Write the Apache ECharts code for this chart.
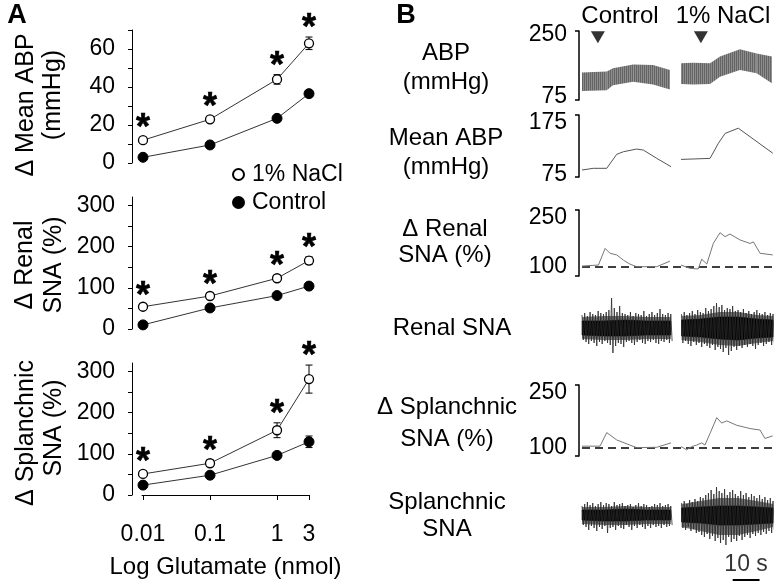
<!DOCTYPE html>
<html><head><meta charset="utf-8">
<script src="https://cdn.jsdelivr.net/npm/echarts@6/dist/echarts.min.js"></script>
<style>html,body{margin:0;padding:0;background:#fff}#c{width:779px;height:585px}</style>
</head><body><div id="c"></div>
<script>
// ---------- Panel A data ----------
const doses = [0.01, 0.1, 1, 3];
const doseLabels = ['0.01', '0.1', '1', '3'];
const abpNaCl = [12, 23, 44, 63];
const abpNaClErr = [1.5, 1.5, 2.5, 3.3];
const abpCtrl = [3, 9.5, 23.5, 36.5];
const abpCtrlErr = [1, 1, 1, 1.5];
const renalNaCl = [54, 80, 123, 166];
const renalNaClErr = [5, 5, 7, 9];
const renalCtrl = [10, 51, 81, 104];
const renalCtrlErr = [3, 4, 5, 6];
const splNaCl = [51, 77, 157, 281];
const splNaClErr = [6, 8, 18, 34];
const splCtrl = [24, 48, 96, 129];
const splCtrlErr = [4, 4, 6, 14];
const abpTicks = [0, 10, 20, 30, 40, 50, 60, 70];
const abpTickLabels = [0, 20, 40, 60];
const snaTicks = [0, 50, 100, 150, 200, 250, 300];
const snaTickLabels = [0, 100, 200, 300];

// ---------- Panel B data (time in s) ----------
const abpScaleLabels = [75, 250];
const meanAbpScaleLabels = [75, 175];
const deltaScaleLabels = [100, 250];
const injectionTimes = [5.9, 44.2];

const ctrlAbpT = [0, 9.2, 11.5, 19, 26.4, 32.7];
const ctrlAbpHi = [144, 147, 156, 167, 165, 151];
const ctrlAbpLo = [92, 94, 108, 118, 110, 96];
const naclAbpT = [36.8, 41.3, 47.6, 51.3, 58.7, 64.9, 70.6];
const naclAbpHi = [170, 172, 170, 189, 210, 198, 189];
const naclAbpLo = [112, 110, 112, 132, 151, 142, 114];

const ctrlMeanT = [0, 4.2, 9.2, 12.9, 15.4, 20.3, 22.8, 27.8, 33.1];
const ctrlMeanV = [84.6, 87.9, 87.9, 114.8, 119.8, 125, 123, 107, 91];
const naclMeanT = [36.8, 47.6, 50.7, 53.2, 58.1, 70.9];
const naclMeanV = [105, 107, 136, 155, 165, 117];

const ctrlRenalT = [0, 6.1, 8.6, 10.4, 12.9, 15.4, 17.8, 20.3, 27.8, 32.7];
const ctrlRenalV = [103, 106, 157, 142, 137, 121, 109, 101, 101, 118];
const naclRenalT = [36.8, 40.1, 43.2, 44.5, 46.4, 48.8, 51.3, 53.2, 55.0, 58.7, 62.5, 63.7, 66.2, 70.9];
const naclRenalV = [106, 96, 94, 124, 109, 172, 205, 193, 201, 183, 172, 177, 142, 137];

const ctrlSplT = [0, 6.7, 9.2, 12.9, 17.8, 20.3, 27.8, 33.1];
const ctrlSplV = [105, 105, 142, 122, 108, 101, 102, 114];
const naclSplT = [36.8, 38.9, 40.8, 42.6, 44.5, 45.7, 47.6, 50.1, 51.9, 53.8, 57.5, 62.5, 66.2, 68.0, 70.9];
const naclSplV = [104, 95, 104, 108, 114, 108, 140, 183, 168, 174, 162, 153, 149, 126, 133];

const baselineT = [0, 71];
const baselineV = [100, 100];

// raw nerve activity: peak excursions per second (arbitrary units, 0 = trace centre)
const rawCtrlT = [0,1,2,3,4,5,6,7,8,9,10,11,12,13,14,15,16,17,18,19,20,21,22,23,24,25,26,27,28,29,30,31,32,33];
const rawNaclT = [37,38,39,40,41,42,43,44,45,46,47,48,49,50,51,52,53,54,55,56,57,58,59,60,61,62,63,64,65,66,67,68,69,70,71];
const renalCtrlUp = [13,15,12,16,14,13,17,15,14,16,18,30,20,16,22,15,14,13,16,12,15,14,13,17,12,14,16,13,15,19,14,13,15,14];
const renalCtrlDn = [-12,-14,-16,-13,-15,-18,-14,-16,-13,-15,-17,-25,-18,-15,-16,-19,-14,-13,-15,-17,-14,-12,-15,-16,-13,-14,-12,-15,-16,-13,-14,-12,-15,-13];
const renalNaclUp = [14,16,13,15,17,14,18,16,15,20,17,19,22,25,21,23,18,20,19,22,17,18,16,19,15,17,14,16,18,15,14,16,13,15,14];
const renalNaclDn = [-15,-13,-16,-18,-14,-17,-15,-19,-16,-18,-20,-17,-22,-19,-21,-24,-20,-27,-23,-19,-22,-18,-20,-17,-19,-16,-18,-21,-17,-15,-18,-16,-14,-17,-15];
const splCtrlUp = [9,11,13,10,12,9,11,13,10,12,11,9,13,10,11,12,9,10,11,8,10,12,9,11,10,8,9,11,10,12,9,10,11,9];
const splCtrlDn = [-10,-12,-15,-11,-13,-16,-12,-14,-11,-18,-13,-12,-15,-11,-13,-14,-10,-12,-15,-11,-13,-10,-12,-14,-11,-13,-10,-12,-11,-13,-10,-12,-11,-10];
const splNaclUp = [12,14,11,15,13,16,14,18,17,20,22,25,21,28,24,22,26,20,23,25,21,19,24,20,22,18,21,19,17,20,16,18,15,17,14];
const splNaclDn = [-13,-15,-12,-16,-14,-18,-17,-20,-22,-19,-24,-21,-26,-23,-28,-25,-30,-22,-27,-24,-26,-21,-25,-22,-20,-23,-19,-21,-18,-20,-17,-19,-16,-18,-15];

const coreCtrlT = [0, 8, 16, 24, 33];
const coreNaclT = [37, 44, 51, 58, 65, 71];
const renalCoreCtrlHi = [7, 7, 8, 7, 7];
const renalCoreCtrlLo = [-7, -8, -8, -7, -7];
const renalCoreNaclHi = [8, 9, 11, 11, 9, 8];
const renalCoreNaclLo = [-8, -9, -11, -12, -10, -9];
const renalFuzzCtrlHi = [11, 12, 12, 11, 11];
const renalFuzzCtrlLo = [-11, -12, -12, -11, -11];
const renalFuzzNaclHi = [12, 13, 16, 16, 13, 12];
const renalFuzzNaclLo = [-12, -14, -17, -18, -15, -13];
const splCoreCtrlHi = [5, 5, 6, 5, 5];
const splCoreCtrlLo = [-5, -6, -6, -5, -5];
const splCoreNaclHi = [7, 8, 9, 9, 8, 7];
const splCoreNaclLo = [-7, -8, -10, -10, -9, -8];
const splFuzzCtrlHi = [8, 8, 9, 8, 8];
const splFuzzCtrlLo = [-9, -10, -10, -9, -9];
const splFuzzNaclHi = [11, 14, 17, 17, 14, 11];
const splFuzzNaclLo = [-12, -16, -20, -20, -16, -12];

const scaleBarT = [56, 66];
const scaleBarLabel = '10 s';

// ---------- build ----------
const FF = "'Liberation Sans', Arial, Helvetica, sans-serif";
const logD = doses.map(d => Math.log10(d));
const XMIN = Math.log10(0.01) - 0.015, XMAX = Math.log10(3);

const chart = echarts.init(document.getElementById('c'), null, {renderer: 'canvas'});

// finely striped fill for the pulsatile pressure band
const pc = document.createElement('canvas');
pc.width = 2; pc.height = 4;
const pctx = pc.getContext('2d');
pctx.fillStyle = '#8c8c8c'; pctx.fillRect(0, 0, 2, 4);
pctx.fillStyle = '#646464'; pctx.fillRect(0, 0, 1, 4);
const stripe = {image: pc, repeat: 'repeat'};

const grids = [
  {left: 142, top: 30, width: 167, height: 133},
  {left: 142, top: 197, width: 167, height: 132},
  {left: 142, top: 363, width: 167, height: 132},
  {left: 582, top: 31, width: 191, height: 69},
  {left: 582, top: 115, width: 191, height: 62},
  {left: 582, top: 210, width: 191, height: 66},
  {left: 582, top: 292, width: 191, height: 72},
  {left: 582, top: 385, width: 191, height: 71},
  {left: 582, top: 480, width: 191, height: 105}
].map(g => Object.assign(g, {outerBoundsMode: 'none', containLabel: false}));

function aY(gi, max, ticks, labels) {
  return {gridIndex: gi, type: 'value', min: 0, max: max, offset: 10,
    axisLine: {show: true, onZero: false, lineStyle: {color: '#000', width: 1}},
    axisTick: {show: true, length: 4, lineStyle: {color: '#000'}, customValues: ticks},
    axisLabel: {customValues: labels, fontSize: 23, color: '#000', margin: 17, fontFamily: FF},
    splitLine: {show: false}};
}
function bY(gi, min, max, labels) {
  return {gridIndex: gi, type: 'value', min: min, max: max, offset: 3,
    axisLine: {show: true, onZero: false, lineStyle: {color: '#000', width: 1.5}},
    axisTick: {show: true, length: 4, lineStyle: {color: '#000', width: 1.5}, customValues: [min, max]},
    axisLabel: {customValues: labels, fontSize: 23, color: '#000', margin: 12, fontFamily: FF},
    splitLine: {show: false}};
}
function hiddenY(gi, min, max) {
  return {gridIndex: gi, type: 'value', min: min, max: max, show: false};
}
const yAxes = [
  aY(0, 70, abpTicks, abpTickLabels),
  aY(1, 320, snaTicks, snaTickLabels),
  aY(2, 320, snaTicks, snaTickLabels),
  bY(3, 66.5, 261.3, abpScaleLabels),
  bY(4, 71.2, 190.4, meanAbpScaleLabels),
  bY(5, 72.5, 274.5, deltaScaleLabels),
  hiddenY(6, -36, 36),
  bY(7, 78.2, 271.8, deltaScaleLabels),
  hiddenY(8, -70, 35)
];
const xAxes = [
  {gridIndex: 0, type: 'value', min: XMIN, max: XMAX, show: false},
  {gridIndex: 1, type: 'value', min: XMIN, max: XMAX, show: false},
  {gridIndex: 2, type: 'value', min: XMIN, max: XMAX,
    axisLine: {show: true, onZero: false, lineStyle: {color: '#000', width: 1}},
    axisTick: {show: true, length: 5, lineStyle: {color: '#000'}, customValues: logD},
    axisLabel: {customValues: logD, fontSize: 23, color: '#000', margin: 28, fontFamily: FF,
      formatter: v => { let bi = 0; logD.forEach((l, i) => { if (Math.abs(l - v) < Math.abs(logD[bi] - v)) bi = i; }); return doseLabels[bi]; }},
    splitLine: {show: false},
    name: 'Log Glutamate (nmol)', nameLocation: 'middle', nameGap: 60,
    nameTextStyle: {fontSize: 24, color: '#000', fontFamily: FF}}
];
for (let gi = 3; gi <= 8; gi++) xAxes.push({gridIndex: gi, type: 'value', min: 0, max: 71, show: false});

const series = [];
function errSeries(gi, vals, errs) {
  return {type: 'custom', xAxisIndex: gi, yAxisIndex: gi, silent: true, clip: false, z: 1,
    data: logD.map((x, i) => [x, vals[i], errs[i]]),
    renderItem: (p, api) => {
      const x = api.value(0), m = api.value(1), e = api.value(2);
      const t = api.coord([x, m + e]), b = api.coord([x, m - e]); const w = 3.5;
      const st = {stroke: '#000', lineWidth: 1};
      return {type: 'group', children: [
        {type: 'line', shape: {x1: t[0], y1: t[1], x2: b[0], y2: b[1]}, style: st},
        {type: 'line', shape: {x1: t[0] - w, y1: t[1], x2: t[0] + w, y2: t[1]}, style: st},
        {type: 'line', shape: {x1: b[0] - w, y1: b[1], x2: b[0] + w, y2: b[1]}, style: st}]};
    }};
}
function doseLine(gi, name, vals, open) {
  return {type: 'line', name: name, xAxisIndex: gi, yAxisIndex: gi, clip: false, z: 3,
    data: logD.map((x, i) => [x, vals[i]]), symbol: 'circle', symbolSize: open ? 9 : 10,
    itemStyle: open ? {color: '#fff', borderColor: '#000', borderWidth: 1.3} : {color: '#000', borderColor: '#000', borderWidth: 1},
    lineStyle: {color: '#333', width: 1}};
}
function stars(gi, vals, errs) {
  return {type: 'scatter', xAxisIndex: gi, yAxisIndex: gi, silent: true, clip: false, z: 4,
    data: logD.map((x, i) => [x, vals[i] + errs[i]]), symbolSize: 0.01, itemStyle: {color: '#000', opacity: 1},
    label: {show: true, formatter: '*', position: 'inside', verticalAlign: 'middle', offset: [0, -8],
      fontSize: 36, fontWeight: 'bold', color: '#000', textBorderColor: '#000', textBorderWidth: 0.6, fontFamily: FF}};
}
const panelA = [
  [abpNaCl, abpNaClErr, abpCtrl, abpCtrlErr],
  [renalNaCl, renalNaClErr, renalCtrl, renalCtrlErr],
  [splNaCl, splNaClErr, splCtrl, splCtrlErr]
];
panelA.forEach((d, gi) => {
  series.push(errSeries(gi, d[0], d[1]));
  series.push(errSeries(gi, d[2], d[3]));
  series.push(doseLine(gi, 'Control', d[2], false));
  series.push(doseLine(gi, '1% NaCl', d[0], true));
  series.push(stars(gi, d[0], d[1]));
});

function band(gi, t, lo, hi, fill, stroke) {
  return {type: 'custom', xAxisIndex: gi, yAxisIndex: gi, silent: true, clip: false,
    data: t.map((v, i) => [v, lo[i], hi[i]]),
    renderItem: (p, api) => {
      const i = p.dataIndex; if (i >= t.length - 1) return null;
      const pts = [api.coord([t[i], lo[i]]), api.coord([t[i], hi[i]]), api.coord([t[i + 1], hi[i + 1]]), api.coord([t[i + 1], lo[i + 1]])];
      return {type: 'polygon', shape: {points: pts}, style: {fill: fill, stroke: stroke || null, lineWidth: stroke ? 0.6 : 0}};
    }};
}
// raw nerve trace drawn as a polyline alternating between the up and down excursions of each second
function rawTrace(gi, t, up, dn) {
  const pts = [];
  t.forEach((v, i) => { pts.push([v, up[i]]); pts.push([v + 0.5, dn[i]]); });
  return {type: 'line', xAxisIndex: gi, yAxisIndex: gi, silent: true, clip: false, symbol: 'none',
    data: pts, lineStyle: {color: '#2a2a2a', width: 0.8}};
}
function trace(gi, t, v, color) {
  return {type: 'line', xAxisIndex: gi, yAxisIndex: gi, silent: true, clip: false, symbol: 'none',
    data: t.map((x, i) => [x, v[i]]), lineStyle: {color: color, width: 1}};
}
// ABP
series.push(band(3, ctrlAbpT, ctrlAbpLo, ctrlAbpHi, stripe));
series.push(band(3, naclAbpT, naclAbpLo, naclAbpHi, stripe));
series.push({type: 'scatter', xAxisIndex: 3, yAxisIndex: 3, silent: true, clip: false,
  data: injectionTimes.map(t => [t, 244]), symbol: 'triangle', symbolRotate: 180, symbolSize: [14, 12],
  itemStyle: {color: '#000'}});
// Mean ABP
series.push(trace(4, ctrlMeanT, ctrlMeanV, '#555'));
series.push(trace(4, naclMeanT, naclMeanV, '#555'));
// Delta renal
series.push({type: 'line', xAxisIndex: 5, yAxisIndex: 5, silent: true, symbol: 'none', clip: false,
  data: baselineT.map((x, i) => [x, baselineV[i]]), lineStyle: {color: '#000', width: 1.5, type: [8, 5]}});
series.push(trace(5, ctrlRenalT, ctrlRenalV, '#777'));
series.push(trace(5, naclRenalT, naclRenalV, '#777'));
// Renal raw
series.push(rawTrace(6, rawCtrlT, renalCtrlUp, renalCtrlDn));
series.push(rawTrace(6, rawNaclT, renalNaclUp, renalNaclDn));
series.push(band(6, coreCtrlT, renalFuzzCtrlLo, renalFuzzCtrlHi, 'rgba(30,30,30,0.6)'));
series.push(band(6, coreNaclT, renalFuzzNaclLo, renalFuzzNaclHi, 'rgba(30,30,30,0.6)'));
series.push(band(6, coreCtrlT, renalCoreCtrlLo, renalCoreCtrlHi, '#000', '#000'));
series.push(band(6, coreNaclT, renalCoreNaclLo, renalCoreNaclHi, '#000', '#000'));
// Delta splanchnic
series.push({type: 'line', xAxisIndex: 7, yAxisIndex: 7, silent: true, symbol: 'none', clip: false,
  data: baselineT.map((x, i) => [x, baselineV[i]]), lineStyle: {color: '#000', width: 1.5, type: [8, 5]}});
series.push(trace(7, ctrlSplT, ctrlSplV, '#777'));
series.push(trace(7, naclSplT, naclSplV, '#777'));
// Splanchnic raw
series.push(rawTrace(8, rawCtrlT, splCtrlUp, splCtrlDn));
series.push(rawTrace(8, rawNaclT, splNaclUp, splNaclDn));
series.push(band(8, coreCtrlT, splFuzzCtrlLo, splFuzzCtrlHi, 'rgba(30,30,30,0.6)'));
series.push(band(8, coreNaclT, splFuzzNaclLo, splFuzzNaclHi, 'rgba(30,30,30,0.6)'));
series.push(band(8, coreCtrlT, splCoreCtrlLo, splCoreCtrlHi, '#000', '#000'));
series.push(band(8, coreNaclT, splCoreNaclLo, splCoreNaclHi, '#000', '#000'));
// scale bar
series.push({type: 'line', xAxisIndex: 8, yAxisIndex: 8, silent: true, symbol: 'none', clip: false,
  data: scaleBarT.map(t => [t, -65]), lineStyle: {color: '#000', width: 2}});
series.push({type: 'scatter', xAxisIndex: 8, yAxisIndex: 8, silent: true, clip: false, symbolSize: 1,
  itemStyle: {color: 'rgba(0,0,0,0)'}, data: [[(scaleBarT[0] + scaleBarT[1]) / 2, -65]],
  label: {show: true, formatter: scaleBarLabel, position: 'top', distance: 3, fontSize: 23, color: '#000', fontFamily: FF}});

function txt(x, y, s, size, opts) {
  opts = opts || {};
  return {type: 'text', x: x, y: y, rotation: opts.rot || 0, silent: true,
    style: {text: s, font: (opts.bold ? 'bold ' : '') + size + 'px ' + FF, fill: '#000',
      textAlign: 'center', textVerticalAlign: 'middle', align: 'center', verticalAlign: 'middle'}};
}
const R = Math.PI / 2;
const graphic = [
  txt(17, 16, 'A', 27, {bold: true}),
  txt(406, 16, 'B', 27, {bold: true}),
  txt(26, 105, 'Δ Mean ABP', 25, {rot: R}),
  txt(53, 95, '(mmHg)', 25, {rot: R}),
  txt(25, 265, 'Δ Renal', 25, {rot: R}),
  txt(54, 265, 'SNA (%)', 25, {rot: R}),
  txt(26, 433, 'Δ Splanchnic', 25, {rot: R}),
  txt(54, 428, 'SNA (%)', 25, {rot: R}),
  txt(620, 16, 'Control', 24),
  txt(723, 16, '1% NaCl', 24),
  txt(446, 53, 'ABP', 24),
  txt(446, 82, '(mmHg)', 24),
  txt(446, 138, 'Mean ABP', 24),
  txt(446, 167, '(mmHg)', 24),
  txt(445, 229, 'Δ Renal', 24),
  txt(445, 255, 'SNA (%)', 24),
  txt(452, 328, 'Renal SNA', 24),
  txt(447, 407, 'Δ Splanchnic', 24),
  txt(447, 439, 'SNA (%)', 24),
  txt(447, 502, 'Splanchnic', 24),
  txt(447, 529, 'SNA', 24)
];

chart.setOption({
  animation: false,
  backgroundColor: '#fff',
  textStyle: {fontFamily: FF},
  grid: grids,
  xAxis: xAxes,
  yAxis: yAxes,
  legend: {data: ['1% NaCl', 'Control'], orient: 'vertical', left: 232, top: 163, itemGap: 5,
    itemWidth: 11, itemHeight: 11, icon: 'circle', textStyle: {fontSize: 23, color: '#000', fontFamily: FF, padding: [0, 0, 0, 3]},
    selectedMode: false, padding: 0},
  graphic: graphic,
  series: series
});
</script></body></html>
